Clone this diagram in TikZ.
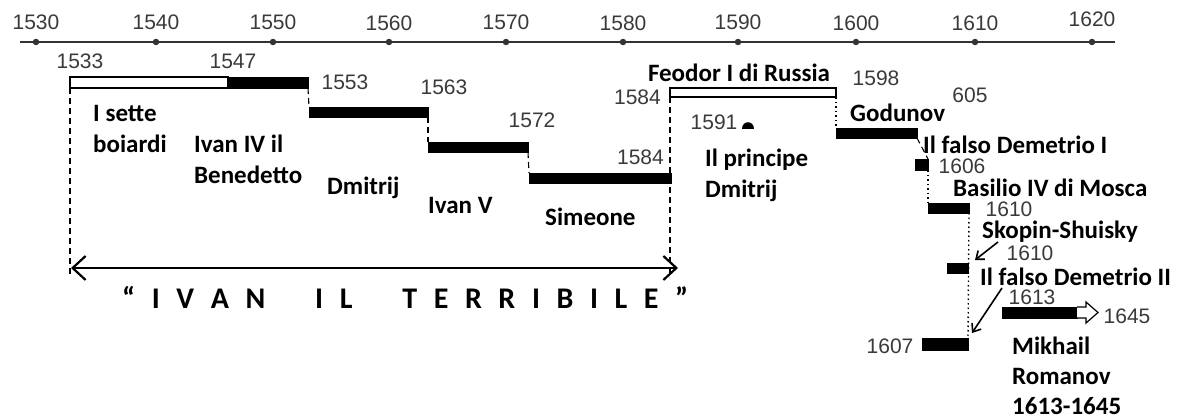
\documentclass[tikz,border=0pt]{standalone}
\usepackage{fontspec}
\setmainfont{Carlito}
\newfontfamily\numfont{Liberation Sans}
\usetikzlibrary{arrows.meta}
\definecolor{numgray}{HTML}{3A3A3A}
\definecolor{axisgray}{HTML}{333333}
\begin{document}
\begin{tikzpicture}[x=1pt,y=-1pt,
  num/.style={font=\numfont\fontsize{21}{21}\selectfont, text=numgray, inner sep=0},
  lbl/.style={font=\bfseries\fontsize{25}{31}\selectfont, inner sep=0, align=left, anchor=west},
  big/.style={font=\bfseries\fontsize{30}{30}\selectfont, inner sep=0},
  barb/.style={draw=black, fill=black, inner sep=0, outer sep=0, anchor=north west, line width=0.8},
  barw/.style={draw=black, fill=white, inner sep=0, outer sep=0, anchor=north west, line width=1.2},
  dot/.style={circle, fill=axisgray, inner sep=0, minimum size=6.5},
  conn/.style={line width=1.1, dash pattern=on 6pt off 4pt},
  dotc/.style={line width=1.4, dash pattern=on 1.5pt off 3pt},
  bigarrow/.style={line width=2.2, {Straight Barb[length=13,width=24]}-{Straight Barb[length=13,width=24]}},
  smallarrow/.style={line width=1.6, -{Straight Barb[length=7,width=11]}}
]
\useasboundingbox (0,0) rectangle (1180,420);
\fill[white] (0,0) rectangle (1180,420);

% axis
\draw[line width=1.8, axisgray] (20,42) -- (1115,42);
\foreach \yr/\xx/\yy in {1530/36/22, 1540/156/22, 1550/273/22, 1560/389/23, 1570/506/22, 1580/623/23, 1590/738/22, 1600/856/23, 1610/975/23, 1620/1092/19}{
  \node[dot] (d\yr) at (\xx,42) {};
  \node[num] (y\yr) at (\xx,\yy) {\yr};
}

% bars
\node[barw, minimum width=158, minimum height=11] (sette) at (70,77) {};
\node[barb, minimum width=80, minimum height=11] (ivan4) at (228,77) {};
\node[barb, minimum width=119, minimum height=10] (dmitrij) at (309,107) {};
\node[barb, minimum width=100, minimum height=10] (ivan5) at (428,142) {};
\node[barb, minimum width=142, minimum height=10] (simeone) at (529,173) {};
\node[barw, minimum width=166, minimum height=9] (feodor) at (670,88) {};
\node[barb, minimum width=81, minimum height=10] (godunov) at (836,128) {};
\node[barb, minimum width=13, minimum height=11] (falso1) at (915,159) {};
\node[barb, minimum width=41, minimum height=10] (basilio) at (928,203) {};
\node[barb, minimum width=21, minimum height=10] (falso2a) at (947,263) {};
\node[barb, minimum width=46, minimum height=12] (falso2b) at (922,338) {};
\node[barb, minimum width=75, minimum height=11] (mikhail) at (1002,307) {};
\draw[line width=1.2, fill=white] (mikhail.north east) -- (1086,307) -- (1086,302) -- (1098,312.5) -- (1086,323) -- (1086,318) -- (mikhail.south east);

% half dot 1591
\fill (742,129) .. controls (742,120) and (754,120) .. (754,129) -- cycle;

% numbers
\node[num] (n1533) at (80,61) {1533};
\node[num] (n1547) at (233,61) {1547};
\node[num] (n1553) at (345,82) {1553};
\node[num] (n1563) at (444,87) {1563};
\node[num] (n1572) at (532,120) {1572};
\node[num, anchor=east] (n1584a) at (664,157) {1584};
\node[num, anchor=east] (n1584b) at (661,97) {1584};
\node[num] (n1591) at (714,122) {1591};
\node[num] (n1598) at (876,78) {1598};
\node[num] (n605) at (970,95) {605};
\node[num] (n1606) at (962,166) {1606};
\node[num] (n1610a) at (1009,209) {1610};
\node[num] (n1610b) at (1030,253) {1610};
\node[num] (n1613) at (1032,297) {1613};
\node[num] (n1645) at (1127,316) {1645};
\node[num] (n1607) at (890,346) {1607};

% labels
\node[lbl] (lsette) at (93,129) {I sette\\boiardi};
\node[lbl] (livan4) at (194,159) {Ivan IV il\\Benedetto};
\node[lbl] (ldmitrij) at (327,188) {Dmitrij};
\node[lbl] (livan5) at (428,205) {Ivan V};
\node[lbl] (lsimeone) at (545,217) {Simeone};
\node[lbl, anchor=center] (lfeodor) at (739,73) {Feodor I di Russia};
\node[lbl] (lprincipe) at (705,175) {Il principe\\Dmitrij};
\node[lbl] (lgodunov) at (850,113) {Godunov};
\node[lbl] (lfalso1) at (923,145) {Il falso Demetrio I};
\node[lbl] (lbasilio) at (953,188) {Basilio IV di Mosca};
\node[lbl] (lskopin) at (982,232) {Skopin-Shuisky};
\node[lbl] (lfalso2) at (980,277) {Il falso Demetrio II};
\node[lbl, font=\bfseries\fontsize{25}{30}\selectfont] (lmikhail) at (1012,376) {Mikhail\\Romanov\\1613-1645};

% connectors
\coordinate (Lbot) at (70,277);
\coordinate (Rbot) at (670,277);
\coordinate (AL) at (71,268);
\coordinate (AR) at (678,268);
\draw[conn] (sette.south west) -- (Lbot);
\draw[conn] (feodor.south west) -- (Rbot);
\draw[conn] (ivan4.south east) -- (dmitrij.north west);
\draw[conn] (dmitrij.south east) -- (ivan5.north west);
\draw[conn] (ivan5.south east) -- (simeone.north west);
\draw[dotc] (feodor.south east) -- (godunov.north west);
\draw[conn] (godunov.south east) -- (falso1.north east);
\draw[dotc] (falso1.south east) -- (basilio.north west);
\draw[dotc] (basilio.south east) -- (falso2b.north east);
\draw[bigarrow] (AL) -- (AR);

\coordinate (sk1) at (998,242);
\coordinate (sk2) at (975,260);
\coordinate (fd1) at (1002,288);
\coordinate (fd2) at (972,333);
\draw[smallarrow] (sk1) -- (sk2);
\draw[smallarrow] (fd1) -- (fd2);

% IVAN IL TERRIBILE
\node[big, anchor=west] (ivan) at (122,297) {\makebox[566pt][s]{``\hfill I\hfill V\hfill A\hfill N\hfill\hfill\hfill I\hfill L\hfill\hfill\hfill T\hfill E\hfill R\hfill R\hfill I\hfill B\hfill I\hfill L\hfill E\hfill ''}};
\end{tikzpicture}
\end{document}
